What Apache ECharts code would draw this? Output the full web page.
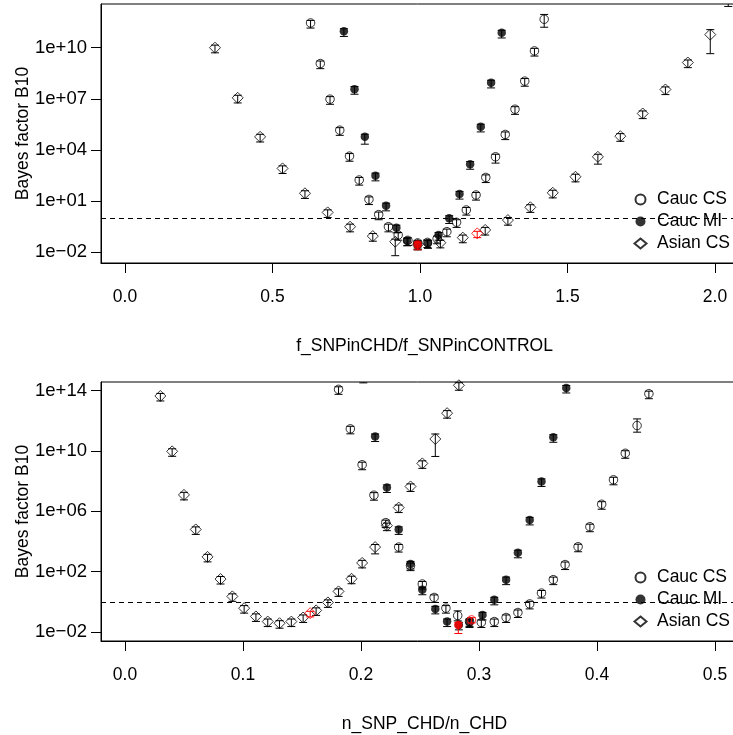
<!DOCTYPE html>
<html>
<head>
<meta charset="utf-8">
<script src="https://cdn.jsdelivr.net/npm/echarts@6/dist/echarts.min.js"></script>
<style>html,body{margin:0;padding:0;background:#fff}#c{width:733px;height:735px}</style>
</head>
<body>
<div id="c"></div>
<script>
// ===== DATA (y values are log10 of the Bayes factor B10) =====
// --- Top panel: x = f_SNPinCHD/f_SNPinCONTROL ---
const topCaucCSX   = [0.629,0.662,0.695,0.728,0.761,0.794,0.827,0.860,0.893,0.926,0.959,0.992,1.025,1.058,1.091,1.124,1.157,1.190,1.223,1.256,1.289,1.322,1.355,1.388,1.421];
const topCaucCSLog = [11.45,9.07,6.98,5.16,3.64,2.24,1.10,0.21,-0.50,-0.99,-1.30,-1.45,-1.42,-1.20,-0.79,-0.24,0.48,1.36,2.39,3.60,4.91,6.39,8.04,9.81,11.67];
const topCaucCSLo  = [0.30,0.30,0.30,0.30,0.30,0.30,0.30,0.30,0.30,0.30,0.30,0.30,0.30,0.30,0.30,0.30,0.30,0.30,0.30,0.37,0.30,0.30,0.30,0.30,0.47];
const topCaucCSHi  = [0.15,0.15,0.15,0.15,0.15,0.15,0.15,0.15,0.15,0.15,0.15,0.15,0.15,0.15,0.15,0.15,0.15,0.15,0.15,0.15,0.15,0.15,0.15,0.15,0.28];

const topCaucMIX   = [0.742,0.778,0.813,0.849,0.885,0.920,0.956,0.992,1.027,1.063,1.099,1.134,1.170,1.206,1.241,1.277];
const topCaucMILog = [10.96,7.57,4.77,2.49,0.73,-0.56,-1.32,-1.55,-1.47,-0.99,-0.01,1.42,3.17,5.36,7.94,10.87];
const topCaucMILo  = [0.30,0.30,0.43,0.30,0.30,0.30,0.30,0.30,0.30,0.30,0.30,0.30,0.30,0.30,0.30,0.30];
const topCaucMIHi  = [0.15,0.15,0.15,0.15,0.15,0.15,0.15,0.15,0.15,0.15,0.15,0.15,0.15,0.15,0.15,0.15];

const topAsianX    = [0.305,0.382,0.458,0.534,0.610,0.687,0.763,0.840,0.916,0.992,1.069,1.145,1.221,1.298,1.374,1.450,1.527,1.603,1.679,1.755,1.832,1.908,1.984,2.045];
const topAsianLog  = [10.00,7.06,4.77,2.92,1.46,0.34,-0.50,-1.05,-1.38,-1.55,-1.44,-1.14,-0.69,-0.11,0.64,1.49,2.43,3.60,4.81,6.14,7.55,9.13,10.77,12.72];
const topAsianLo   = [0.30,0.30,0.30,0.30,0.30,0.30,0.30,0.30,0.82,0.30,0.30,0.30,0.30,0.30,0.30,0.30,0.30,0.43,0.30,0.30,0.30,0.30,1.12,0.30];
const topAsianHi   = [0.15,0.15,0.15,0.15,0.15,0.15,0.15,0.15,0.15,0.15,0.15,0.15,0.15,0.15,0.15,0.15,0.15,0.15,0.15,0.15,0.15,0.15,0.29,0.15];

// observed points (red)
const topRedMIX = [0.992], topRedMILog = [-1.55], topRedMILo = [0.30], topRedMIHi = [0.15];
const topRedAsX = [1.194], topRedAsLog = [-0.89], topRedAsLo = [0.25], topRedAsHi = [0.12];

// --- Bottom panel: x = n_SNP_CHD/n_CHD ---
const botCaucCSX   = [0.181,0.191,0.201,0.211,0.221,0.232,0.242,0.252,0.262,0.272,0.282,0.292,0.302,0.313,0.323,0.333,0.343,0.353,0.363,0.373,0.384,0.394,0.404,0.414,0.424,0.434,0.444];
const botCaucCSLog = [14.09,11.47,9.09,7.07,5.25,3.63,2.40,1.18,0.29,-0.42,-0.91,-1.30,-1.37,-1.31,-1.04,-0.71,-0.14,0.58,1.47,2.47,3.65,4.98,6.47,8.09,9.85,11.69,13.80];
const botCaucCSLo  = [0.33,0.33,0.33,0.33,0.33,0.33,0.33,0.33,0.33,0.33,0.35,0.33,0.33,0.33,0.33,0.33,0.33,0.33,0.33,0.33,0.33,0.33,0.33,0.33,0.33,0.44,0.33];
const botCaucCSHi  = [0.17,0.17,0.17,0.17,0.17,0.17,0.17,0.17,0.17,0.17,0.31,0.17,0.17,0.17,0.17,0.17,0.17,0.17,0.17,0.17,0.17,0.17,0.17,0.17,0.17,0.44,0.17];

const botCaucMIX   = [0.202,0.212,0.222,0.232,0.242,0.252,0.263,0.273,0.283,0.292,0.303,0.313,0.323,0.333,0.343,0.353,0.363,0.374];
const botCaucMILog = [14.85,10.96,7.58,4.80,2.51,0.80,-0.47,-1.31,-1.53,-1.37,-0.87,0.13,1.47,3.25,5.43,7.98,10.91,14.18];
const botCaucMILo  = [0.33,0.33,0.33,0.33,0.33,0.33,0.33,0.33,0.33,0.33,0.33,0.33,0.33,0.33,0.33,0.33,0.33,0.33];
const botCaucMIHi  = [0.17,0.17,0.17,0.17,0.17,0.17,0.17,0.17,0.17,0.17,0.17,0.17,0.17,0.17,0.17,0.17,0.17,0.17];

const botAsianX    = [0.030,0.040,0.050,0.060,0.070,0.081,0.091,0.101,0.111,0.121,0.131,0.141,0.151,0.162,0.172,0.181,0.192,0.201,0.212,0.222,0.232,0.242,0.252,0.263,0.273,0.283];
const botAsianLog  = [13.65,9.98,7.09,4.80,2.98,1.51,0.36,-0.42,-0.97,-1.31,-1.42,-1.31,-1.04,-0.57,-0.04,0.69,1.53,2.58,3.63,5.05,6.25,7.65,9.18,10.80,12.51,14.36];
const botAsianLo   = [0.33,0.33,0.33,0.33,0.33,0.33,0.33,0.33,0.33,0.33,0.33,0.33,0.33,0.33,0.33,0.33,0.33,0.33,0.45,0.33,0.33,0.33,0.33,1.16,0.33,0.33];
const botAsianHi   = [0.17,0.17,0.17,0.17,0.17,0.17,0.17,0.17,0.17,0.17,0.17,0.17,0.17,0.17,0.17,0.17,0.17,0.17,0.17,0.17,0.17,0.17,0.17,0.33,0.17,0.17];

const botRedCSX = [0.2937], botRedCSLog = [-1.20], botRedCSLo = [0.20], botRedCSHi = [0.15];
const botRedMIX = [0.2825], botRedMILog = [-1.53], botRedMILo = [0.57], botRedMIHi = [0.15];
const botRedAsX = [0.157],  botRedAsLog = [-0.75], botRedAsLo = [0.25], botRedAsHi = [0.12];

// axis ticks
const topXTicks = [0, 0.5, 1.0, 1.5, 2.0];
const botXTicks = [0, 0.1, 0.2, 0.3, 0.4, 0.5];
const topYTicks = [1e-2, 1e1, 1e4, 1e7, 1e10];
const botYTicks = [1e-2, 1e2, 1e6, 1e10, 1e14];
const refLine = 1;
const legendNames = ['Cauc CS', 'Cauc MI', 'Asian CS'];
const xTitles = ['f_SNPinCHD/f_SNPinCONTROL', 'n_SNP_CHD/n_CHD'];
const yTitle = 'Bayes factor B10';

// ===== CHART =====
const FONT = "'Liberation Sans', Arial, Helvetica, sans-serif";
const FS = 17.5;
const pts = (xs, ls) => xs.map((x, i) => [x, Math.pow(10, ls[i])]);
const errs = (xs, ls, lo, hi) => xs.map((x, i) => [x, Math.pow(10, ls[i] - lo[i]), Math.pow(10, ls[i] + hi[i])]);

function errRender(color) {
  return function (params, api) {
    const x = api.value(0);
    const a = api.coord([x, api.value(1)]);
    const b = api.coord([x, api.value(2)]);
    const w = 4;
    const style = { stroke: color, lineWidth: 1, fill: null };
    return { type: 'group', children: [
      { type: 'line', shape: { x1: a[0], y1: a[1], x2: b[0], y2: b[1] }, style },
      { type: 'line', shape: { x1: a[0] - w, y1: a[1], x2: a[0] + w, y2: a[1] }, style },
      { type: 'line', shape: { x1: b[0] - w, y1: b[1], x2: b[0] + w, y2: b[1] }, style }
    ]};
  };
}
function errSeries(gi, name, xs, ls, lo, hi, color, z) {
  return { type: 'custom', name: name, xAxisIndex: gi, yAxisIndex: gi, clip: true, z: z,
    renderItem: errRender(color), encode: { x: 0, y: [1, 2] }, silent: true,
    data: errs(xs, ls, lo, hi) };
}
const STY = {
  cs: { symbol: 'circle', symbolSize: 8.5, itemStyle: { color: 'rgba(0,0,0,0)', borderColor: '#000', borderWidth: 1 } },
  mi: { symbol: 'circle', symbolSize: 8.5, itemStyle: { color: '#000', borderColor: '#000', borderWidth: 0 } },
  as: { symbol: 'diamond', symbolSize: 11, itemStyle: { color: 'rgba(0,0,0,0)', borderColor: '#000', borderWidth: 1 } },
  rcs: { symbol: 'circle', symbolSize: 8.5, itemStyle: { color: 'rgba(0,0,0,0)', borderColor: '#f00', borderWidth: 1 } },
  rmi: { symbol: 'circle', symbolSize: 8.5, itemStyle: { color: '#f00', borderColor: '#f00', borderWidth: 0 } },
  ras: { symbol: 'diamond', symbolSize: 11, itemStyle: { color: 'rgba(0,0,0,0)', borderColor: '#f00', borderWidth: 1 } }
};
function scat(gi, name, xs, ls, sty, z, extra) {
  return Object.assign({ type: 'scatter', name: name, xAxisIndex: gi, yAxisIndex: gi, clip: true, z: z,
    symbol: sty.symbol, symbolSize: sty.symbolSize, itemStyle: sty.itemStyle,
    emphasis: { disabled: true }, data: pts(xs, ls) }, extra || {});
}
const dashLine = { silent: true, symbol: 'none', label: { show: false },
  lineStyle: { color: '#000', type: [5, 4], width: 1 }, emphasis: { disabled: true },
  data: [{ yAxis: refLine }] };

function xAx(gi, min, max, ticks, name) {
  return { type: 'value', gridIndex: gi, min: min, max: max, name: name,
    nameLocation: 'middle', nameGap: 74, nameMoveOverlap: false,
    nameTextStyle: { fontFamily: FONT, fontSize: FS, color: '#000' },
    axisLine: { show: true, onZero: false, lineStyle: { color: '#000', width: 1 } },
    axisTick: { show: true, inside: false, length: 10, customValues: ticks, lineStyle: { color: '#000', width: 1 } },
    axisLabel: { customValues: ticks, margin: 25, fontFamily: FONT, fontSize: FS, color: '#000',
      formatter: v => Number(v).toFixed(1) },
    splitLine: { show: false } };
}
function fmtE(v) {
  const e = Math.round(Math.log10(v));
  return '1e' + (e < 0 ? '\u2212' : '+') + String(Math.abs(e)).padStart(2, '0');
}
function yAx(gi, lmin, lmax, ticks) {
  return { type: 'log', logBase: 10, gridIndex: gi, min: Math.pow(10, lmin), max: Math.pow(10, lmax),
    name: yTitle, nameLocation: 'middle', nameGap: 69, nameRotate: 90, nameMoveOverlap: false,
    nameTextStyle: { fontFamily: FONT, fontSize: FS, color: '#000' },
    axisLine: { show: true, onZero: false, lineStyle: { color: '#000', width: 1 } },
    axisTick: { show: true, inside: false, length: 10, customValues: ticks, lineStyle: { color: '#000', width: 1 } },
    axisLabel: { customValues: ticks, margin: 14, fontFamily: FONT, fontSize: 18.5, color: '#000', formatter: fmtE },
    splitLine: { show: false }, minorTick: { show: false } };
}
function legendAt(top) {
  return { data: legendNames, orient: 'vertical', left: 633.5, top: top, itemWidth: 12, itemHeight: 10,
    itemGap: 4, selectedMode: false, padding: 0,
    formatter: n => '{t|' + n + '}',
    textStyle: { fontFamily: FONT, fontSize: FS, color: '#000', lineHeight: 17,
      rich: { t: { fontFamily: FONT, fontSize: FS, color: '#000', lineHeight: 17, padding: [0, 0, 0, 5.5] } } } };
}

const chart = echarts.init(document.getElementById('c'), null, { renderer: 'canvas' });
chart.setOption({
  animation: false,
  backgroundColor: '#fff',
  grid: [
    { left: 101, top: 4, width: 647, height: 259, outerBoundsMode: 'none', containLabel: false, show: true, borderColor: '#000', borderWidth: 1, backgroundColor: 'transparent' },
    { left: 101, top: 382, width: 647, height: 259, outerBoundsMode: 'none', containLabel: false, show: true, borderColor: '#000', borderWidth: 1, backgroundColor: 'transparent' }
  ],
  xAxis: [ xAx(0, -0.0814, 2.1119, topXTicks, xTitles[0]), xAx(1, -0.0203, 0.528, botXTicks, xTitles[1]) ],
  yAxis: [ yAx(0, -2.628, 12.563, topYTicks), yAx(1, -2.598, 14.578, botYTicks) ],
  legend: [ legendAt(190.5), legendAt(568.5) ],
  series: [
    scat(0, 'Cauc CS', topCaucCSX, topCaucCSLog, STY.cs, 3, { markLine: dashLine }),
    scat(0, 'Cauc MI', topCaucMIX, topCaucMILog, STY.mi, 3),
    scat(0, 'Asian CS', topAsianX, topAsianLog, STY.as, 3),
    errSeries(0, 'e1', topCaucCSX, topCaucCSLog, topCaucCSLo, topCaucCSHi, '#000', 2),
    errSeries(0, 'e2', topCaucMIX, topCaucMILog, topCaucMILo, topCaucMIHi, '#000', 2),
    errSeries(0, 'e3', topAsianX, topAsianLog, topAsianLo, topAsianHi, '#000', 2),
    errSeries(0, 'r1', topRedMIX, topRedMILog, topRedMILo, topRedMIHi, '#f00', 4),
    errSeries(0, 'r2', topRedAsX, topRedAsLog, topRedAsLo, topRedAsHi, '#f00', 4),
    scat(0, 'obs MI top', topRedMIX, topRedMILog, STY.rmi, 5),
    scat(0, 'obs As top', topRedAsX, topRedAsLog, STY.ras, 5),

    scat(1, 'Cauc CS', botCaucCSX, botCaucCSLog, STY.cs, 3, { markLine: dashLine }),
    scat(1, 'Cauc MI', botCaucMIX, botCaucMILog, STY.mi, 3),
    scat(1, 'Asian CS', botAsianX, botAsianLog, STY.as, 3),
    errSeries(1, 'e4', botCaucCSX, botCaucCSLog, botCaucCSLo, botCaucCSHi, '#000', 2),
    errSeries(1, 'e5', botCaucMIX, botCaucMILog, botCaucMILo, botCaucMIHi, '#000', 2),
    errSeries(1, 'e6', botAsianX, botAsianLog, botAsianLo, botAsianHi, '#000', 2),
    errSeries(1, 'r3', botRedCSX, botRedCSLog, botRedCSLo, botRedCSHi, '#f00', 4),
    errSeries(1, 'r4', botRedMIX, botRedMILog, botRedMILo, botRedMIHi, '#f00', 4),
    errSeries(1, 'r5', botRedAsX, botRedAsLog, botRedAsLo, botRedAsHi, '#f00', 4),
    scat(1, 'obs CS bot', botRedCSX, botRedCSLog, STY.rcs, 5),
    scat(1, 'obs MI bot', botRedMIX, botRedMILog, STY.rmi, 5),
    scat(1, 'obs As bot', botRedAsX, botRedAsLog, STY.ras, 5)
  ]
});
</script>
</body>
</html>
